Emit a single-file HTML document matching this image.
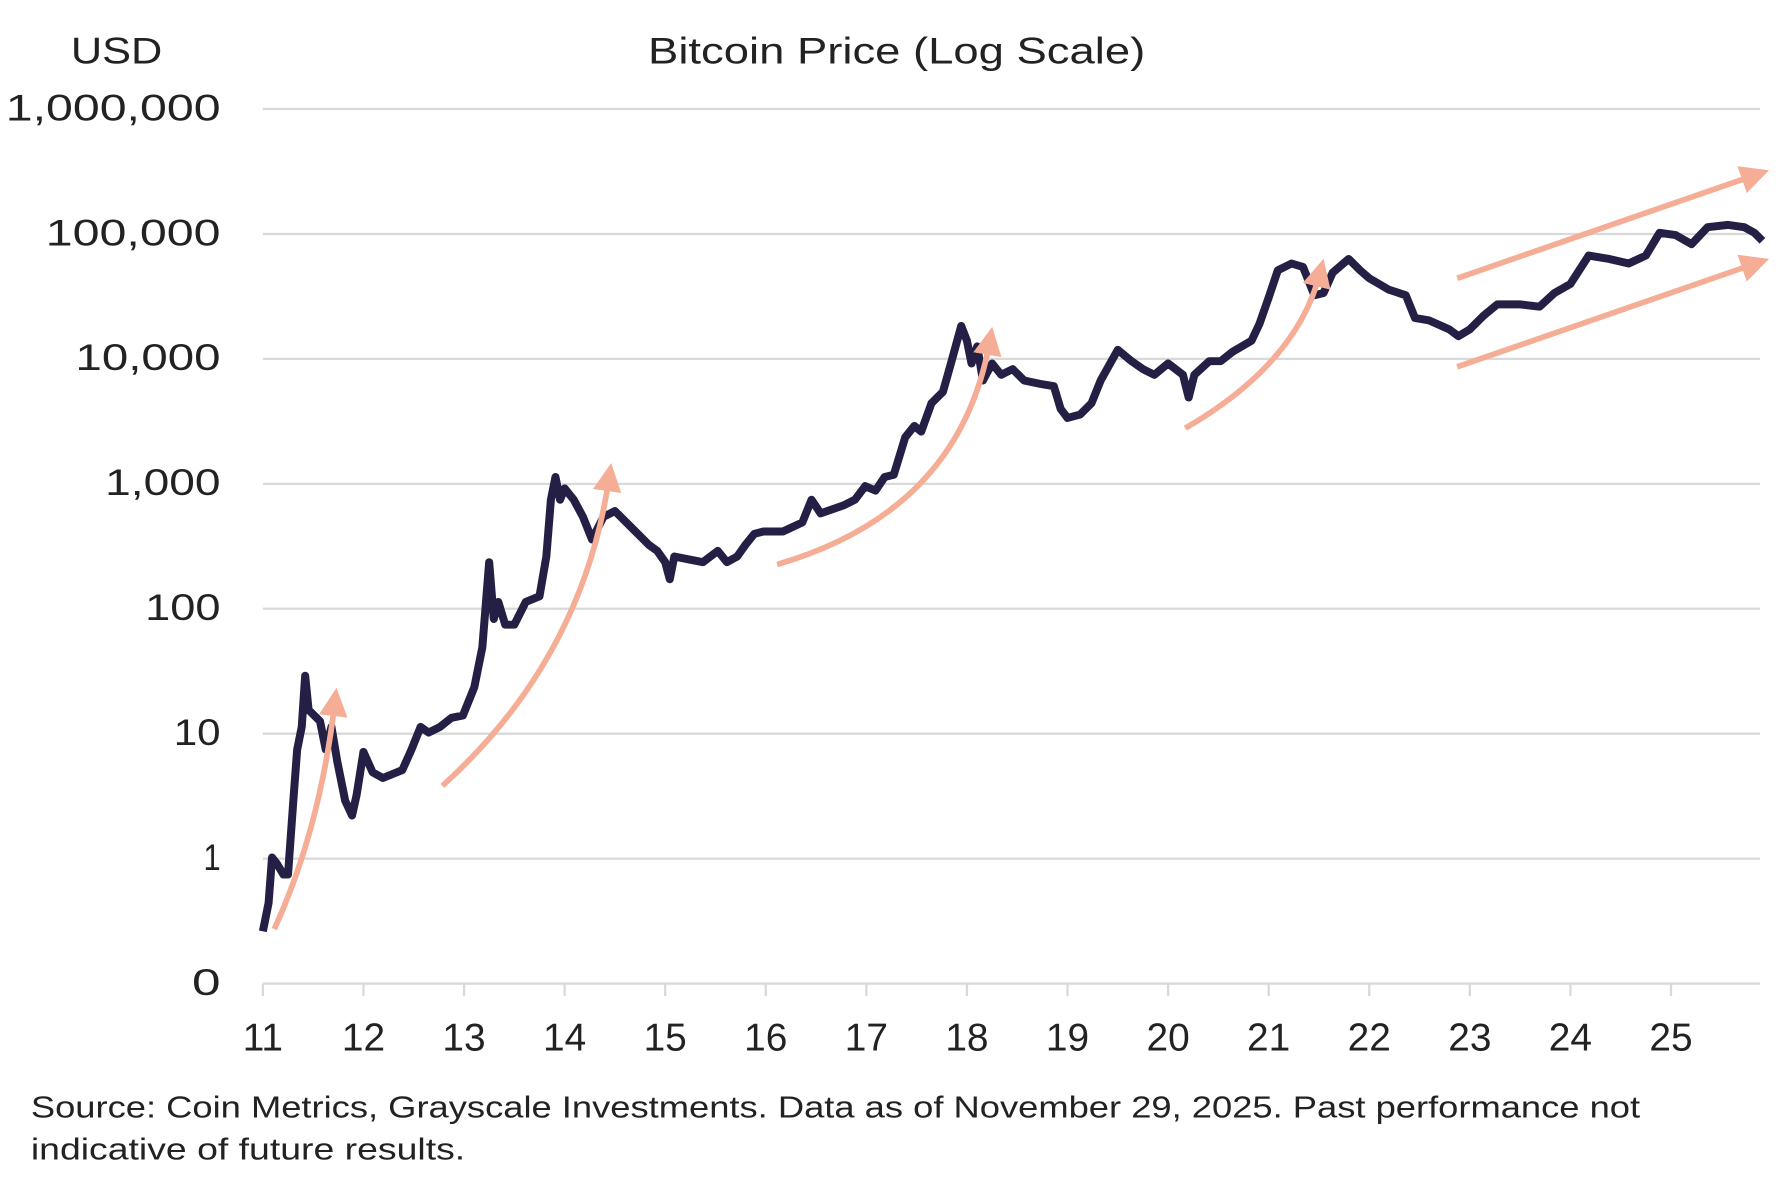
<!DOCTYPE html>
<html><head><meta charset="utf-8"><style>
html,body{margin:0;padding:0;background:#fff;}
svg{display:block;font-family:"Liberation Sans",sans-serif;}
</style></head><body>
<svg width="1783" height="1188" viewBox="0 0 1560 1046" preserveAspectRatio="none">
<defs>
<marker id="ah" markerWidth="5" markerHeight="5" refX="2.5" refY="2.5" orient="auto" markerUnits="strokeWidth">
<path d="M0,0 L5,2.5 L0,5 z" fill="#f5ad96"/></marker>
</defs>
<rect width="1560" height="1046" fill="#fff"/>
<g stroke="#d9d9d9" stroke-width="2">
<line x1="230" x2="1540" y1="96" y2="96"/><line x1="230" x2="1540" y1="206" y2="206"/>
<line x1="230" x2="1540" y1="316" y2="316"/><line x1="230" x2="1540" y1="426" y2="426"/>
<line x1="230" x2="1540" y1="536" y2="536"/><line x1="230" x2="1540" y1="646" y2="646"/>
<line x1="230" x2="1540" y1="756" y2="756"/><line x1="230" x2="1540" y1="866" y2="866"/>
<g>
<line x1="230" x2="230" y1="866" y2="877"/><line x1="318" x2="318" y1="866" y2="877"/><line x1="406" x2="406" y1="866" y2="877"/><line x1="494" x2="494" y1="866" y2="877"/><line x1="582" x2="582" y1="866" y2="877"/><line x1="670" x2="670" y1="866" y2="877"/><line x1="758" x2="758" y1="866" y2="877"/><line x1="846" x2="846" y1="866" y2="877"/><line x1="934" x2="934" y1="866" y2="877"/><line x1="1022" x2="1022" y1="866" y2="877"/><line x1="1110" x2="1110" y1="866" y2="877"/><line x1="1198" x2="1198" y1="866" y2="877"/><line x1="1286" x2="1286" y1="866" y2="877"/><line x1="1374" x2="1374" y1="866" y2="877"/><line x1="1462" x2="1462" y1="866" y2="877"/>
</g></g>
<g font-size="33" fill="#222" lengthAdjust="spacingAndGlyphs">
<text x="5" y="106" textLength="188" lengthAdjust="spacingAndGlyphs">1,000,000</text>
<text x="40" y="216" textLength="153" lengthAdjust="spacingAndGlyphs">100,000</text>
<text x="66" y="326" textLength="127" lengthAdjust="spacingAndGlyphs">10,000</text>
<text x="92" y="436" textLength="101" lengthAdjust="spacingAndGlyphs">1,000</text>
<text x="127" y="546" textLength="66" lengthAdjust="spacingAndGlyphs">100</text>
<text x="152" y="656" textLength="41" lengthAdjust="spacingAndGlyphs">10</text>
<text x="178" y="766" textLength="15" lengthAdjust="spacingAndGlyphs">1</text>
<text x="168" y="876" textLength="25" lengthAdjust="spacingAndGlyphs">0</text>
</g>
<g font-size="34" fill="#222" text-anchor="middle">
<text x="230" y="925">11</text><text x="318" y="925">12</text><text x="406" y="925">13</text><text x="494" y="925">14</text><text x="582" y="925">15</text><text x="670" y="925">16</text><text x="758" y="925">17</text><text x="846" y="925">18</text><text x="934" y="925">19</text><text x="1022" y="925">20</text><text x="1110" y="925">21</text><text x="1198" y="925">22</text><text x="1286" y="925">23</text><text x="1374" y="925">24</text><text x="1462" y="925">25</text>
</g>
<g font-size="33" fill="#222">
<text x="62" y="56" textLength="80" lengthAdjust="spacingAndGlyphs">USD</text>
<text x="567" y="56" textLength="435" lengthAdjust="spacingAndGlyphs">Bitcoin Price (Log Scale)</text>
</g>
<g font-size="27" fill="#222">
<text x="27" y="984" textLength="1408" lengthAdjust="spacingAndGlyphs">Source: Coin Metrics, Grayscale Investments. Data as of November 29, 2025. Past performance not</text>
<text x="27" y="1021" textLength="380" lengthAdjust="spacingAndGlyphs">indicative of future results.</text>
</g>
<polyline fill="none" stroke="#241f45" stroke-width="7" stroke-linejoin="round" points="230,820 235,795 238,755 242,760 248,770 252,770 257,700 260,660 264,640 267,595 270,625 275,630 280,635 285,660 290,640 295,670 302,705 308,718 312,700 318,662 326,680 335,685 352,678 360,660 368,640 375,645 385,640 395,632 405,630 415,605 422,570 428,495 432,545 436,530 442,550 450,550 460,530 472,525 478,490 482,440 486,420 490,440 494,430 502,440 510,455 518,475 528,455 538,450 548,460 558,470 568,480 575,485 582,495 586,510 590,490 600,492 615,495 628,485 636,495 645,490 652,480 660,470 668,468 685,468 702,460 710,440 718,452 738,445 748,440 757,428 766,432 774,420 782,418 792,385 800,375 806,380 815,355 825,345 832,320 841,287 846,300 850,320 855,305 860,335 868,320 876,330 886,325 896,335 910,338 922,340 928,360 934,368 945,365 955,355 963,335 978,308 990,318 1000,325 1010,330 1022,320 1035,330 1040,350 1045,330 1058,318 1068,318 1078,310 1095,300 1102,285 1110,262 1118,238 1130,232 1140,235 1150,260 1158,258 1166,240 1180,228 1190,238 1198,245 1215,255 1230,260 1238,280 1250,282 1268,290 1276,296 1286,290 1298,278 1310,268 1330,268 1347,270 1360,258 1374,250 1390,225 1408,228 1425,232 1440,225 1452,205 1466,207 1480,215 1494,200 1512,198 1526,200 1535,205 1542,212"/>
<g fill="none" stroke="#f5ad96" stroke-width="5" stroke-linecap="butt" marker-end="url(#ah)">
<path d="M240,818 Q280,730 293,618"/>
<path d="M387,692 Q510,580 533,420"/>
<path d="M680,497 Q840,450 866,300"/>
<path d="M1037,377 Q1135,320 1155,240"/>
<path d="M1275,245 L1536,154"/>
<path d="M1275,323 L1536,232"/>
</g>
</svg>
</body></html>
